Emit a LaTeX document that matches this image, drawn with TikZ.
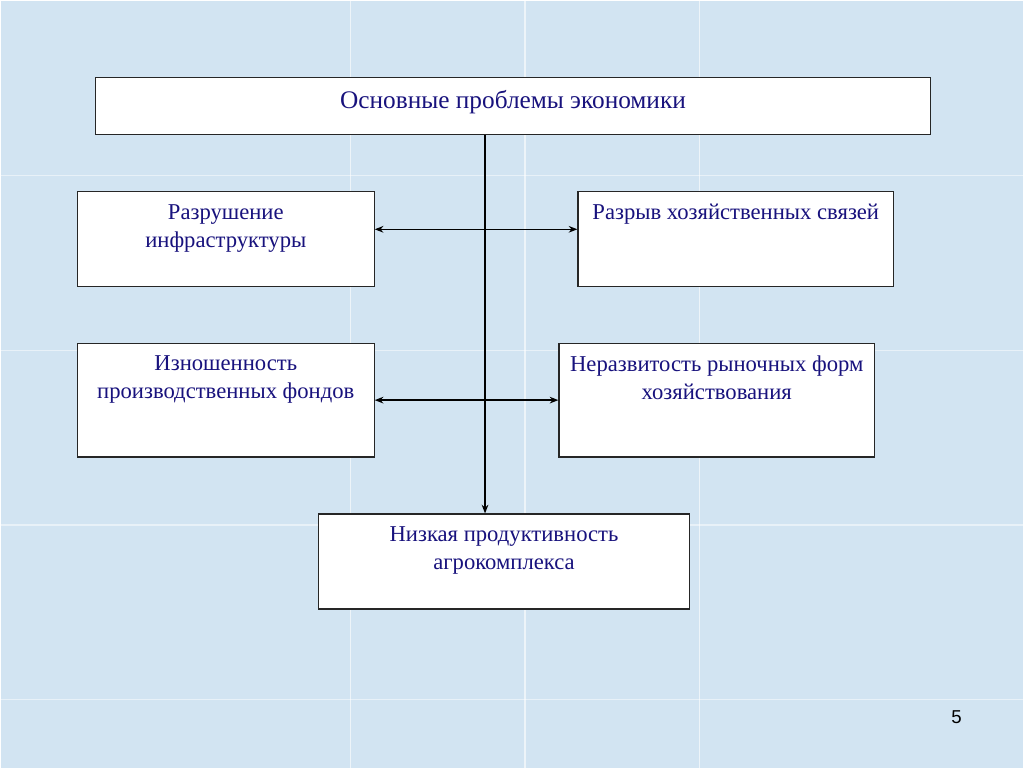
\documentclass[tikz,border=0pt]{standalone}
\usepackage{fontspec}
\setmainfont{Liberation Serif}
\newfontfamily\numfont{Liberation Sans}
\usetikzlibrary{positioning, arrows.meta}
\definecolor{slidebg}{RGB}{210,228,242}
\definecolor{slidetext}{RGB}{24,18,125}
\tikzset{
    >={Stealth[length=6.5pt, width=5pt]}, % arrow heads
    box/.style={draw=black!85, fill=white, line width=0.9pt, inner sep=0pt}, % the frames
    txt/.style={text=slidetext, align=center, inner sep=0pt, font=\fontsize{17}{21}\selectfont}, % text inside the frames
    link/.style={line width=1pt}, % connectors
}
\begin{document}
\begin{tikzpicture}[x=0.75pt, y=-0.75pt]
    % slide background
    \fill[slidebg] (0,0) rectangle (1024,768);
    \foreach \gx in {350,525,700}
        \draw[white, opacity=0.6, line width=0.8pt] (\gx,0) -- (\gx,768);
    \foreach \gy in {175,350,525,700}
        \draw[white, opacity=0.5, line width=0.8pt] (0,\gy) -- (1024,\gy);
    \useasboundingbox (0,0) rectangle (1024,768);
    % frames
    \node[box, minimum width=627pt, minimum height=42.75pt] (main) at (513,105.5) {};
    \node[box, minimum width=222.75pt, minimum height=71.25pt] (infra) at (225.5,238.5) {};
    \node[box, minimum width=237pt, minimum height=71.25pt] (links) at (736,238.5) {};
    \node[box, minimum width=222.75pt, minimum height=85.5pt] (funds) at (225.5,400) {};
    \node[box, minimum width=237pt, minimum height=85.5pt] (market) at (717,400) {};
    \node[box, minimum width=279pt, minimum height=71.25pt] (agro) at (504,561.5) {};
    % texts
    \node[txt, font=\fontsize{19}{21}\selectfont, below=10pt of main.north] (mainT) {Основные проблемы экономики};
    \node[txt, below=10pt of infra.north] (infraT) {Разрушение\\инфраструктуры};
    \node[txt, below=10pt of links.north] (linksT) {Разрыв хозяйственных связей};
    \node[txt, below=10pt of funds.north] (fundsT) {Изношенность\\производственных фондов};
    \node[txt, below=10pt of market.north] (marketT) {Неразвитость рыночных форм\\хозяйствования};
    \node[txt, below=10pt of agro.north] (agroT) {Низкая продуктивность\\агрокомплекса};
    \node[font=\numfont\fontsize{14}{16}\selectfont, inner sep=0pt] (pagenum) at (957,717) {5};
    % connectors
    \coordinate (trunk) at (485,0);
    \coordinate (row1) at (0,229);
    \draw[link, ->] (trunk |- main.south) -- (trunk |- agro.north);
    \draw[link, <->] (infra.east |- row1) -- (links.west |- row1);
    \draw[link, <->] (funds.east) -- (funds.east -| market.west);
\end{tikzpicture}
\end{document}
